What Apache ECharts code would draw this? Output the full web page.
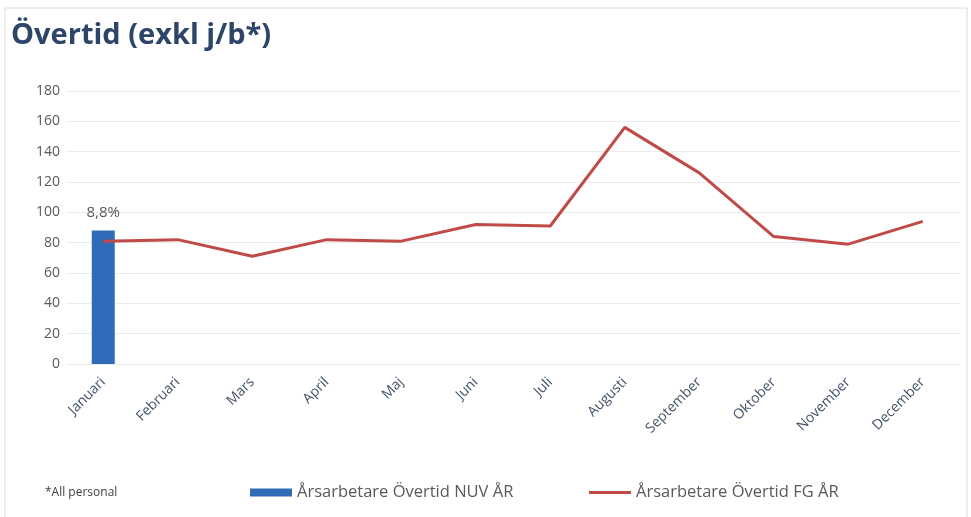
<!DOCTYPE html>
<html>
<head>
<meta charset="utf-8">
<script src="https://cdn.jsdelivr.net/npm/echarts@6/dist/echarts.min.js"></script>
<style>
  html, body { margin: 0; padding: 0; background: #fff; }
  #chart { width: 971px; height: 517px; }
</style>
</head>
<body>
<div id="chart"></div>
<script>
const months = ['Januari', 'Februari', 'Mars', 'April', 'Maj', 'Juni', 'Juli', 'Augusti', 'September', 'Oktober', 'November', 'December']
// current year, only January reported so far
const nuvAr = [88, null, null, null, null, null, null, null, null, null, null, null]
const nuvLabels = ['8,8%']
// previous year
const fgAr = [81, 82, 71, 82, 81, 92, 91, 156, 126, 84, 79, 94]
const yTicks = { min: 0, max: 180, interval: 20 }

const font = "'Open Sans', 'Liberation Sans', sans-serif"
const chart = echarts.init(document.getElementById('chart'))

chart.setOption({
  backgroundColor: '#fff',
  animation: false,
  title: [
    {
      text: 'Övertid (exkl j/b*)',
      left: 6,
      top: 16,
      textStyle: { fontFamily: font, fontSize: 29, fontWeight: 'bold', color: '#2d4568' },
    },
    {
      text: '*All personal',
      left: 40,
      top: 482,
      textStyle: { fontFamily: font, fontSize: 12, fontWeight: 'normal', color: '#404040' },
    },
  ],
  graphic: [
    {
      type: 'rect',
      shape: { x: 5, y: 8, width: 962, height: 520 },
      style: { fill: 'none', stroke: '#dcdcdc', lineWidth: 1 },
      silent: true,
    },
  ],
  legend: [
    {
      left: 245,
      top: 479,
      itemWidth: 42,
      itemHeight: 8,
      data: [{ name: 'Årsarbetare Övertid NUV ÅR', icon: 'rect' }],
      textStyle: { fontFamily: font, fontSize: 16.5, color: '#595959' },
    },
    {
      left: 584,
      top: 479,
      itemWidth: 42,
      itemHeight: 3,
      data: [{ name: 'Årsarbetare Övertid FG ÅR', icon: 'rect' }],
      textStyle: { fontFamily: font, fontSize: 16.5, color: '#595959' },
    },
  ],
  grid: { left: 66, right: 11, top: 91, bottom: 153 },
  xAxis: {
    type: 'category',
    data: months,
    boundaryGap: true,
    axisLine: { show: false },
    axisTick: { show: false },
    axisLabel: {
      rotate: 45,
      interval: 0,
      margin: 16,
      fontFamily: font,
      fontSize: 14,
      color: '#44546a',
    },
  },
  yAxis: {
    type: 'value',
    min: yTicks.min,
    max: yTicks.max,
    interval: yTicks.interval,
    axisLine: { show: false },
    axisTick: { show: false },
    axisLabel: { fontFamily: font, fontSize: 14, color: '#595959', margin: 6 },
    splitLine: { lineStyle: { color: '#ececec', width: 1 } },
  },
  series: [
    {
      name: 'Årsarbetare Övertid NUV ÅR',
      type: 'bar',
      data: nuvAr,
      barWidth: 23,
      itemStyle: { color: '#2f6cb8' },
      label: {
        show: true,
        position: 'top',
        distance: 10,
        fontFamily: font,
        fontSize: 15,
        color: '#595959',
        formatter: (p) => nuvLabels[p.dataIndex] || '',
      },
    },
    {
      name: 'Årsarbetare Övertid FG ÅR',
      type: 'line',
      data: fgAr,
      symbol: 'none',
      lineStyle: { color: '#bf4a47', width: 3 },
      itemStyle: { color: '#bf4a47' },
    },
  ],
})
</script>
</body>
</html>
